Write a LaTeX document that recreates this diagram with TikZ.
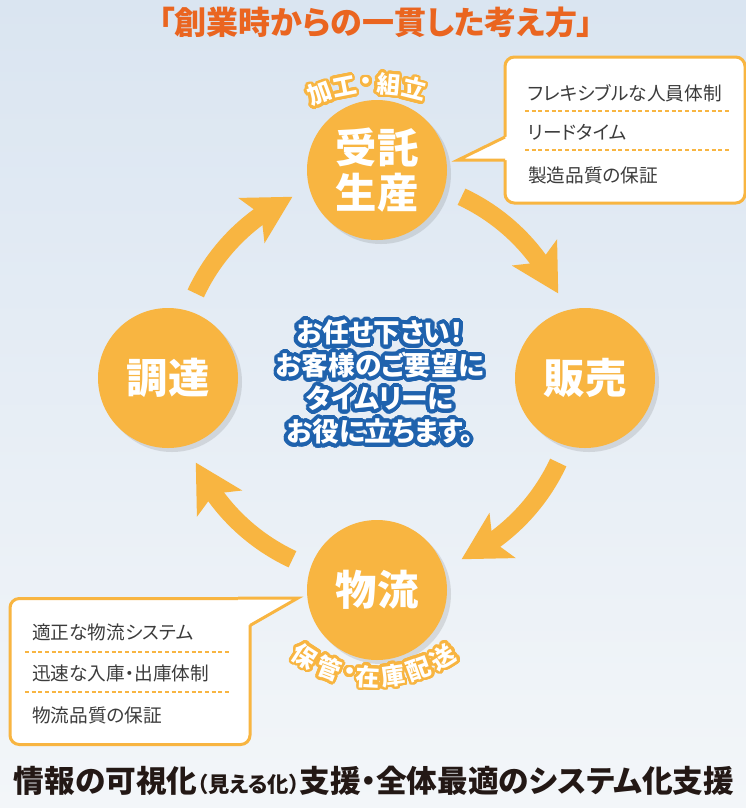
\documentclass[tikz,border=0pt]{standalone}
\usepackage{fontspec}
\setmainfont{Noto Sans CJK JP}[RawFeature=+palt]
\usepackage{contour}
\contourlength{2pt}
\contournumber{32}
\usetikzlibrary{arrows.meta,bending,shadows}

\definecolor{skytop}{HTML}{DAE5F1}
\definecolor{skymid}{HTML}{E3EBF4}
\definecolor{skybot}{HTML}{F3F6F9}
\definecolor{ringfill}{HTML}{F8B541}
\definecolor{titleorange}{HTML}{EA6520}
\definecolor{msgblue}{HTML}{1F62AD}
\definecolor{memotext}{HTML}{3C3C3C}
\definecolor{slogantext}{HTML}{231815}

\tikzset{
  stage/.style={circle, fill=ringfill, minimum size=105pt, inner sep=0pt,
    text=white, align=center, font=\bfseries\fontsize{31pt}{33.75pt}\selectfont,
    drop shadow={shadow xshift=3pt, shadow yshift=-3pt, opacity=.18, fill=black!60}},
  cyclearrow/.style={ringfill, line width=13.5pt,
    -{Stealth[length=35pt, width=38pt, inset=8pt]}},
  arcchar/.style={text=white, inner sep=0pt, font=\bfseries\fontsize{18pt}{18pt}\selectfont},
  memobox/.style={draw=ringfill, line width=2.25pt, fill=white, rounded corners=7pt,
    minimum width=180pt, minimum height=109.5pt, inner sep=0pt},
  memotail/.style={draw=ringfill, line width=2.25pt},
  memoline/.style={text=memotext, anchor=west, inner sep=0pt,
    font=\fontsize{14pt}{14pt}\selectfont},
  memorule/.style={ringfill, line width=0.8pt, dash pattern=on 3pt off 2pt},
}

\begin{document}
\begin{tikzpicture}[x=0.75pt, y=0.75pt]
% Hintergrund
\useasboundingbox (0,0) rectangle (746,-808);
\shade[top color=skytop, middle color=skymid, bottom color=skybot] (0,0) rectangle (746,-808);

% Titel
\node[text=titleorange, font=\bfseries\fontsize{24pt}{24pt}\selectfont] (title) at (376,-22)
  {「創業時からの一貫した考え方」};

% Kreislauf
\coordinate (hub) at (377,-378);
\foreach \a in {155,65,-25,-115}
  \draw[cyclearrow] ([shift={(\a:200)}]hub) arc[start angle=\a, end angle=\a-40, radius=200];

\node[stage] (make) at (377,-170) {受託\\生産};
\node[stage] (sell) at (585,-378) {販売};
\node[stage] (ship) at (377,-590) {物流};
\node[stage] (buy)  at (168,-378) {調達};

% Bogenschrift
\coordinate (craftarc) at (375,-245);
\foreach \ch/\ang [count=\i] in {加/110,工/101,・/93,組/85,立/76}
  \node[arcchar, rotate=\ang-90] (craft\i) at ([shift={(\ang:160)}]craftarc) {\contour{ringfill}{\ch}};
\coordinate (storearc) at (375,-548);
\foreach \ch/\ang [count=\i] in {保/237,管/249,・/258.5,在/267,庫/278,配/290,送/302}
  \node[arcchar, rotate=\ang-270] (store\i) at ([shift={(\ang:130)}]storearc) {\contour{ringfill}{\ch}};

% Mitte
\node[text=white, align=center, font=\bfseries\fontsize{20pt}{24.75pt}\selectfont] (msg) at (380,-384)
  {\contourlength{2.8pt}\contour{msgblue}{お任せ下さい！}\\
   \contourlength{2.8pt}\contour{msgblue}{お客様のご要望に}\\
   \contourlength{2.8pt}\contour{msgblue}{タイムリーに}\\
   \contourlength{2.8pt}\contour{msgblue}{お役に立ちます。}};

% Sprechblase oben
\node[memobox] (makebox) at (625,-130) {};
\coordinate (maketip) at (458,-160);
\fill[white] (507,-136.5) -- (maketip) -- (507,-160) -- cycle;
\draw[memotail] (505,-137) -- (maketip) -- (505,-160);
\node[memoline] (make1) at (528,-93) {フレキシブルな人員体制};
\node[memoline] (make2) at (528,-132) {リードタイム};
\node[memoline] (make3) at (528,-175) {製造品質の保証};
\draw[memorule] (525,-111) -- (730,-111);
\draw[memorule] (525,-150) -- (730,-150);

% Sprechblase unten
\node[memobox] (shipbox) at (130,-671.5) {};
\coordinate (shiptip) at (298,-598);
\fill[white] (238,-598) -- (shiptip) -- (250,-625) -- (238,-625) -- cycle;
\draw[memotail] (238,-598) -- (shiptip) -- (250,-625.5);
\node[memoline] (ship1) at (32,-632) {適正な物流システム};
\node[memoline] (ship2) at (32,-673) {迅速な入庫・出庫体制};
\node[memoline] (ship3) at (32,-715) {物流品質の保証};
\draw[memorule] (25,-652) -- (229,-652);
\draw[memorule] (25,-692) -- (229,-692);

% Fusszeile
\node[text=slogantext, font=\bfseries\fontsize{23pt}{23pt}\selectfont] (slogan) at (374,-781)
  {情報の可視化{\fontsize{16pt}{16pt}\selectfont（見える化）}支援・全体最適のシステム化支援};
\end{tikzpicture}
\end{document}
